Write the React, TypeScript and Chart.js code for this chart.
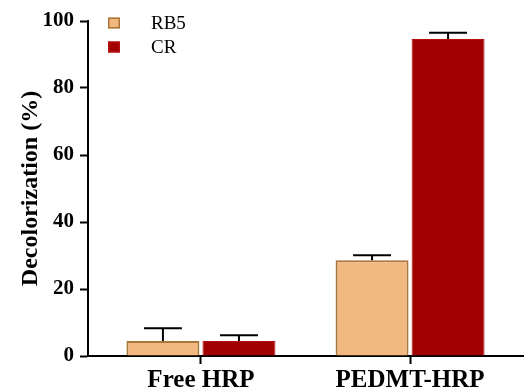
import React, { useEffect, useRef } from "react";
import { Chart, registerables } from "chart.js";

Chart.register(...registerables);

const categories = ["Free HRP", "PEDMT-HRP"];
const seriesNames = ["RB5", "CR"];
const rb5Values = [4.5, 28.6];
const rb5Errors = [3.8, 1.5];
const crValues = [4.5, 94.6];
const crErrors = [1.7, 1.9];
const yTicks = [0, 20, 40, 60, 80, 100];

const SERIF = "'Liberation Serif', 'Times New Roman', serif";

const errorBarPlugin = {
  id: "errorBars",
  afterDatasetsDraw(chart: any) {
    const { ctx } = chart;
    const yScale = chart.scales.y;
    chart.data.datasets.forEach((ds: any, di: number) => {
      const meta = chart.getDatasetMeta(di);
      meta.data.forEach((bar: any, i: number) => {
        const err = ds.errors[i];
        const v = ds.data[i].y;
        const yTop = yScale.getPixelForValue(v + err);
        const yBase = yScale.getPixelForValue(v);
        const cap = bar.width * 0.26;
        ctx.save();
        ctx.strokeStyle = "#000";
        ctx.lineWidth = 2;
        ctx.beginPath();
        ctx.moveTo(bar.x, yBase);
        ctx.lineTo(bar.x, yTop);
        ctx.moveTo(bar.x - cap, yTop);
        ctx.lineTo(bar.x + cap, yTop);
        ctx.stroke();
        ctx.restore();
      });
    });
  },
};

const legendPlugin = {
  id: "customLegend",
  afterDraw(chart: any) {
    const { ctx } = chart;
    ctx.save();
    chart.data.datasets.forEach((ds: any, i: number) => {
      const y = 23 + i * 24;
      ctx.fillStyle = ds.backgroundColor;
      ctx.fillRect(108, y - 5.5, 12, 11);
      ctx.strokeStyle = ds.borderColor;
      ctx.lineWidth = 1.5;
      ctx.strokeRect(108.75, y - 4.75, 10.5, 9.5);
      ctx.fillStyle = "#000";
      ctx.font = `19px ${SERIF}`;
      ctx.textBaseline = "middle";
      ctx.textAlign = "left";
      ctx.fillText(ds.label, 151, y + 1);
    });
    ctx.restore();
  },
};

export default function App() {
  const canvasRef = useRef<HTMLCanvasElement | null>(null);

  useEffect(() => {
    const canvas = canvasRef.current;
    if (!canvas) return;
    const chart = new Chart(canvas, {
      type: "bar",
      data: {
        datasets: [
          {
            label: seriesNames[0],
            data: categories.map((_, i) => ({ x: i, y: rb5Values[i] })),
            errors: rb5Errors,
            backgroundColor: "#F2B880",
            borderColor: "#A8783A",
            borderWidth: 2,
            categoryPercentage: 0.727,
            barPercentage: 0.96,
          } as any,
          {
            label: seriesNames[1],
            data: categories.map((_, i) => ({ x: i, y: crValues[i] })),
            errors: crErrors,
            backgroundColor: "#A00000",
            borderColor: "#B81010",
            borderWidth: 1,
            categoryPercentage: 0.727,
            barPercentage: 0.96,
          } as any,
        ],
      },
      options: {
        animation: false,
        responsive: false,
        maintainAspectRatio: false,
        layout: { padding: { left: 0, top: 21, right: 6, bottom: 0 } },
        plugins: {
          legend: { display: false },
          tooltip: { enabled: false },
        },
        scales: {
          x: {
            type: "linear",
            min: -0.54,
            max: 1.54,
            offset: false,
            afterBuildTicks: (s: any) => {
              s.ticks = categories.map((_, i) => ({ value: i }));
            },
            afterFit: (s: any) => {
              s.height = 35;
            },
            ticks: {
              autoSkip: false,
              maxRotation: 0,
              padding: 2,
              color: "#000",
              font: { family: SERIF, size: 25, weight: "bold" },
              callback: (v: any) => categories[v] ?? "",
            },
            grid: {
              offset: false,
              drawOnChartArea: false,
              drawTicks: true,
              tickLength: 8,
              tickWidth: 2,
              tickColor: "#000",
            },
            border: { display: true, color: "#000", width: 2 },
          },
          y: {
            min: 0,
            max: 100,
            afterBuildTicks: (s: any) => {
              s.ticks = yTicks.map((v) => ({ value: v }));
            },
            afterFit: (s: any) => {
              s.width = 88;
            },
            ticks: {
              padding: 6,
              color: "#000",
              font: { family: SERIF, size: 21, weight: "bold" },
            },
            grid: {
              drawOnChartArea: false,
              drawTicks: true,
              tickLength: 8,
              tickWidth: 2,
              tickColor: "#000",
            },
            border: { display: true, color: "#000", width: 2 },
            title: {
              display: true,
              text: "Decolorization (%)",
              color: "#000",
              font: { family: SERIF, size: 24, weight: "bold" },
              padding: { top: 16, bottom: 0 },
            },
          },
        },
      } as any,
      plugins: [errorBarPlugin, legendPlugin],
    });
    return () => chart.destroy();
  }, []);

  return (
    <div style={{ position: "fixed", left: 0, top: 0, width: 529, height: 391, background: "#fff" }}>
      <canvas ref={canvasRef} width={529} height={391} style={{ width: 529, height: 391 }} />
    </div>
  );
}
